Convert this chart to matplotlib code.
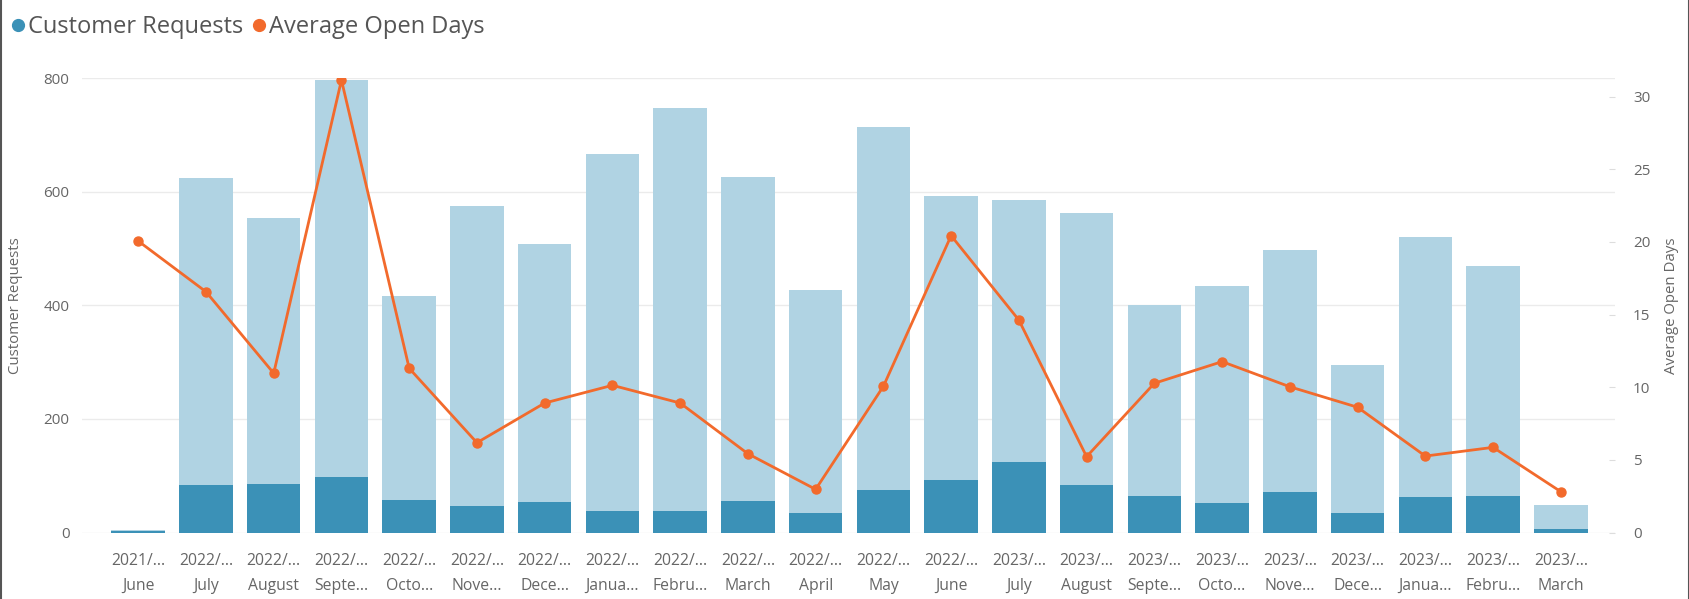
import matplotlib
matplotlib.use("Agg")
import matplotlib.pyplot as plt
from matplotlib.lines import Line2D

plt.rcParams['font.family'] = ['Open Sans', 'DejaVu Sans']

years = ["2021/..."] + ["2022/..."] * 12 + ["2023/..."] * 9
months = ["June", "July", "August", "Septe...", "Octo...", "Nove...", "Dece...",
          "Janua...", "Febru...", "March", "April", "May", "June",
          "July", "August", "Septe...", "Octo...", "Nove...", "Dece...",
          "Janua...", "Febru...", "March"]
total_requests = [5, 624, 554, 797, 416, 575, 509, 667, 747, 626, 428, 715,
                  592, 585, 563, 401, 434, 497, 295, 521, 469, 49]
highlighted_requests = [2, 83, 85, 98, 58, 46, 53, 38, 38, 55, 35, 74,
                        92, 125, 84, 64, 52, 71, 34, 62, 65, 6]
avg_open_days = [20.06, 16.57, 10.96, 31.14, 11.3, 6.18, 8.91, 10.13, 8.91,
                 5.42, 2.97, 10.06, 20.43, 14.62, 5.22, 10.27, 11.76, 10.03,
                 8.62, 5.26, 5.86, 2.81]
left_ticks = [0, 200, 400, 600, 800]
right_ticks = [0, 5, 10, 15, 20, 25, 30]

LIGHT = "#b0d3e3"
DARK = "#3b91b7"
ORANGE = "#f26a2c"
TXT = "#666666"

W, H = 1690, 599
fig = plt.figure(figsize=(W / 100, H / 100), dpi=100)
ax = fig.add_axes([82 / W, 1 - 532.5 / H, (1615 - 82) / W, (532.5 - 78.3) / H])

x = list(range(len(months)))
ax.bar(x, total_requests, width=0.79, color=LIGHT, zorder=2)
ax.bar(x, highlighted_requests, width=0.79, color=DARK, zorder=3)
ax.set_ylim(0, 800)
ax.set_xlim(-0.83, len(months) - 1 + 0.80)
ax.set_yticks(left_ticks)
ax.grid(axis='y', color='#ebebeb', linewidth=1, zorder=0)
ax.set_axisbelow(True)
for s in ax.spines.values():
    s.set_visible(False)
ax.set_xticks(x)
ax.set_xticklabels([f"{y}\n{m}" for y, m in zip(years, months)],
                   fontsize=11.3, color=TXT, linespacing=1.75)
ax.tick_params(axis='x', length=0, pad=15)
ax.tick_params(axis='y', length=0, pad=9, labelsize=11, labelcolor=TXT)
ax.set_ylabel("Customer Requests", fontsize=10.8, color=TXT, labelpad=15)

ax2 = ax.twinx()
ax2.plot(x, avg_open_days, color=ORANGE, linewidth=2, marker='o',
         markersize=6.5, zorder=5)
ax2.set_ylim(0, 31.26)
ax2.set_yticks(right_ticks)
for s in ax2.spines.values():
    s.set_visible(False)
ax2.tick_params(axis='y', direction='in', length=4, color='#dddddd',
                pad=13, labelsize=11, labelcolor=TXT)
ax2.set_ylabel("Average Open Days", fontsize=10.8, color=TXT, labelpad=10)

# legend
fig.canvas.draw()
r = fig.canvas.get_renderer()
ly = 1 - 27 / H
items = [("Customer Requests", DARK), ("Average Open Days", ORANGE)]
px = 18
for label, col in items:
    fig.add_artist(Line2D([px / W], [ly + 2 / H], marker='o', color=col,
                          markersize=8.5, linestyle='none',
                          transform=fig.transFigure))
    t = fig.text((px + 10) / W, ly, label, fontsize=17, color="#555555",
                 va='center', ha='left')
    bb = t.get_window_extent(renderer=r)
    px = bb.x1 + 16

# frame edges
fig.add_artist(Line2D([1 / W, 1 / W], [0, 1], color='#555555', linewidth=1.5,
                      transform=fig.transFigure))
fig.add_artist(Line2D([1 - 1 / W, 1 - 1 / W], [0, 1], color='#555555',
                      linewidth=1.5, transform=fig.transFigure))

fig.savefig("out.png", dpi=100)
